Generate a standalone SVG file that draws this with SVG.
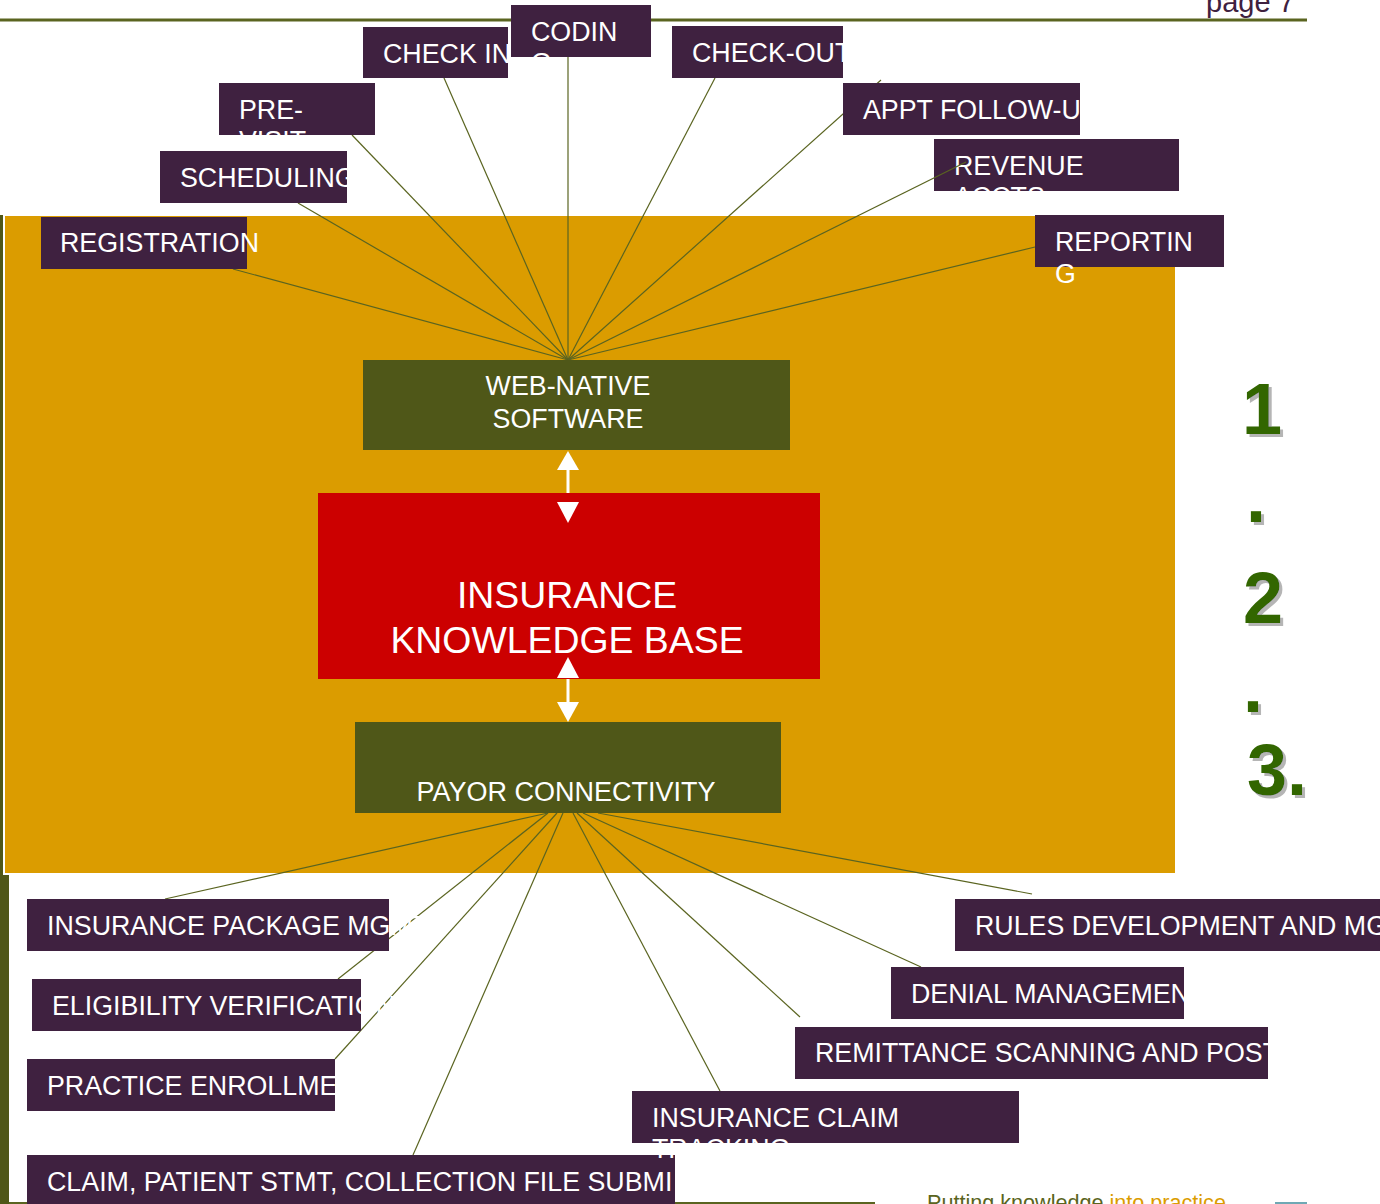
<svg xmlns="http://www.w3.org/2000/svg" width="1380" height="1204" viewBox="0 0 1380 1204">
<defs>
<filter id="shadow" x="-20%" y="-20%" width="150%" height="150%">
<feDropShadow dx="3" dy="3" stdDeviation="0.7" flood-color="#B5B5B5" flood-opacity="1"/>
</filter>
</defs>
<style>
.box{fill:#3F2140}
.lbl{fill:#FFFFFF;font-family:"Liberation Sans",Arial,sans-serif;font-size:26.8px}
.ctr{fill:#FFFFFF;font-family:"Liberation Sans",Arial,sans-serif;text-anchor:middle}
.conn{stroke:#5A6420;stroke-width:1.2;fill:none}
.olive{fill:#4F5718}
.num{font-family:"Liberation Sans",Arial,sans-serif;font-weight:bold;font-size:72px;fill:#336600;filter:url(#shadow)}
</style>
<rect width="1380" height="1204" fill="#FFFFFF"/>
<!-- header -->
<line x1="0" y1="20" x2="1307" y2="20" stroke="#5A6420" stroke-width="3"/>
<text x="1206" y="12" font-family="'Liberation Sans',Arial,sans-serif" font-size="29" fill="#3F2140">page 7</text>
<!-- left bar and background panel -->
<rect x="0" y="215" width="9" height="989" fill="#4F5718"/>
<rect x="4" y="215" width="1172" height="659" fill="#DB9C00" stroke="#FFFFFF" stroke-width="2"/>
<line x1="9" y1="1203" x2="27" y2="1203" stroke="#5A6420" stroke-width="2"/>
<!-- footer -->
<line x1="675" y1="1203" x2="875" y2="1203" stroke="#5A6420" stroke-width="2"/>
<line x1="1275" y1="1203" x2="1307" y2="1203" stroke="#6FA8B4" stroke-width="2"/>
<text x="927" y="1210" font-family="'Liberation Sans',Arial,sans-serif" font-size="21.6"><tspan fill="#5A6420">Putting knowledge </tspan><tspan fill="#DB9C00">into practice</tspan></text>

<g id="revenue">
<rect class="box" x="934" y="139" width="245" height="52"/>
<text class="lbl" x="954" y="175">REVENUE</text>
<text class="lbl" x="954" y="206">ACCTS</text>
</g>

<g id="connectors">
<line class="conn" x1="568" y1="360" x2="233" y2="269"/>
<line class="conn" x1="568" y1="360" x2="298" y2="203"/>
<line class="conn" x1="568" y1="360" x2="352" y2="135"/>
<line class="conn" x1="568" y1="360" x2="444" y2="78"/>
<line class="conn" x1="568" y1="360" x2="568" y2="57"/>
<line class="conn" x1="568" y1="360" x2="715" y2="78"/>
<line class="conn" x1="568" y1="360" x2="881" y2="80"/>
<line class="conn" x1="568" y1="360" x2="966" y2="162"/>
<line class="conn" x1="568" y1="360" x2="1035" y2="247"/>
<line class="conn" x1="548" y1="813" x2="165" y2="899"/>
<line class="conn" x1="548" y1="813" x2="338" y2="979"/>
<line class="conn" x1="557" y1="813" x2="335" y2="1059"/>
<line class="conn" x1="563" y1="813" x2="413" y2="1155"/>
<line class="conn" x1="573" y1="813" x2="720" y2="1091"/>
<line class="conn" x1="577" y1="813" x2="800" y2="1017"/>
<line class="conn" x1="583" y1="813" x2="921" y2="967"/>
<line class="conn" x1="598" y1="813" x2="1032" y2="894"/>
<!-- white double arrows -->
<g fill="#FFFFFF">
<rect x="566.5" y="468" width="3" height="36"/>
<rect x="566.5" y="676" width="3" height="28"/>
</g>
</g>

<g id="web-native">
<rect class="olive" x="363" y="360" width="427" height="90"/>
<text class="ctr" x="568" y="395" font-size="26.8">WEB-NATIVE</text>
<text class="ctr" x="568" y="428" font-size="26.8">SOFTWARE</text>
</g>
<g id="knowledge-base">
<rect x="318" y="493" width="502" height="186" fill="#CC0000"/>
<text class="ctr" x="567" y="608" font-size="37.4">INSURANCE</text>
<text class="ctr" x="567" y="653" font-size="37.4">KNOWLEDGE BASE</text>
</g>
<g id="payor">
<rect class="olive" x="355" y="722" width="426" height="91"/>
<text class="ctr" x="566" y="801" font-size="27">PAYOR CONNECTIVITY</text>
</g>
<!-- arrow heads over boxes -->
<g id="arrowheads" fill="#FFFFFF">
<polygon points="568,451 557,470 579,470"/>
<polygon points="557,502 579,502 568,523"/>
<polygon points="568,657 557,678 579,678"/>
<polygon points="557,702 579,702 568,722"/>
</g>

<g id="check-in">
<rect class="box" x="363" y="27" width="145" height="51"/>
<text class="lbl" x="383" y="63">CHECK IN</text>
</g>
<g id="coding">
<rect class="box" x="511" y="5" width="140" height="52"/>
<text class="lbl" x="531" y="41">CODIN</text>
<text class="lbl" x="531" y="72">G</text>
</g>
<g id="check-out">
<rect class="box" x="672" y="26" width="171" height="52"/>
<text class="lbl" x="692" y="62">CHECK-OUT</text>
</g>
<g id="pre-visit">
<rect class="box" x="219" y="83" width="156" height="52"/>
<text class="lbl" x="239" y="119">PRE-</text>
<text class="lbl" x="239" y="150">VISIT</text>
</g>
<g id="appt-follow-up">
<rect class="box" x="843" y="83" width="237" height="52"/>
<text class="lbl" x="863" y="119">APPT FOLLOW-U</text>
</g>
<g id="scheduling">
<rect class="box" x="160" y="151" width="187" height="52"/>
<text class="lbl" x="180" y="187">SCHEDULING</text>
</g>
<g id="registration">
<rect class="box" x="41" y="217" width="206" height="52"/>
<text class="lbl" x="60" y="252">REGISTRATION</text>
</g>
<g id="reporting">
<rect class="box" x="1035" y="215" width="189" height="52"/>
<text class="lbl" x="1055" y="251">REPORTIN</text>
<text class="lbl" x="1055" y="283">G</text>
</g>

<g id="insurance-package">
<rect class="box" x="27" y="899" width="362" height="52"/>
<text class="lbl" x="47" y="935">INSURANCE PACKAGE MGMT</text>
</g>
<g id="eligibility">
<rect class="box" x="32" y="979" width="329" height="52"/>
<text class="lbl" x="52" y="1015">ELIGIBILITY VERIFICATION</text>
</g>
<g id="practice-enrollment">
<rect class="box" x="27" y="1059" width="308" height="52"/>
<text class="lbl" x="47" y="1095">PRACTICE ENROLLME</text>
</g>
<g id="claim-submission">
<rect class="box" x="27" y="1155" width="648" height="52"/>
<text class="lbl" x="47" y="1191">CLAIM, PATIENT STMT, COLLECTION FILE SUBMI</text>
</g>
<g id="insurance-claim-tracking">
<rect class="box" x="632" y="1091" width="387" height="52"/>
<text class="lbl" x="652" y="1127">INSURANCE CLAIM</text>
<text class="lbl" x="652" y="1158">TRACKING</text>
</g>
<g id="remittance">
<rect class="box" x="795" y="1027" width="473" height="52"/>
<text class="lbl" x="815" y="1062">REMITTANCE SCANNING AND POST</text>
</g>
<g id="denial">
<rect class="box" x="891" y="967" width="293" height="52"/>
<text class="lbl" x="911" y="1003">DENIAL MANAGEMEN</text>
</g>
<g id="rules">
<rect class="box" x="955" y="899" width="430" height="52"/>
<text class="lbl" x="975" y="935">RULES DEVELOPMENT AND MG</text>
</g>

<g id="steps">
<text class="num" x="1242" y="434">1</text>
<text class="num" x="1246" y="522">.</text>
<text class="num" x="1243" y="623">2</text>
<text class="num" x="1243" y="712">.</text>
<text class="num" x="1247" y="795">3.</text>
</g>
</svg>
